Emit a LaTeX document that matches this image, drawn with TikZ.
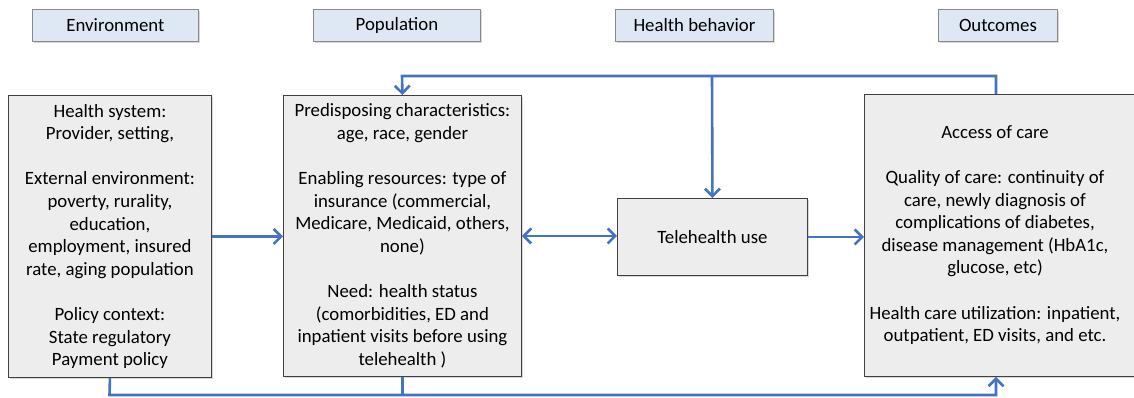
\documentclass[tikz,border=0pt]{standalone}
\usepackage{fontspec}
\setmainfont{Carlito}
\usetikzlibrary{arrows.meta,shadows}
\definecolor{lineblue}{HTML}{4472C4}
\definecolor{boxfill}{HTML}{EDEDED}
\definecolor{boxdraw}{HTML}{404040}
\definecolor{headfill}{HTML}{DEE8F5}
\definecolor{headdraw}{HTML}{8A8A8A}
\tikzset{
  txt/.style={font=\fontsize{18.8}{22.6}\selectfont, align=center, inner sep=0pt, text=black},
  bigbox/.style={txt, draw=boxdraw, fill=boxfill, line width=0.9pt, anchor=north west,
     drop shadow={shadow xshift=2pt, shadow yshift=-2pt, fill=black!30, opacity=0.5}},
  headbox/.style={txt, draw=headdraw, fill=headfill, line width=0.9pt, anchor=north west,
     minimum height=32pt,
     drop shadow={shadow xshift=1.5pt, shadow yshift=-1.5pt, fill=black!30, opacity=0.5}},
  conn/.style={draw=lineblue, line width=2.6pt},
  arr/.style={conn, -{Straight Barb[length=7.5pt,width=15pt,line width=2.6pt]}},
  darr/.style={conn, {Straight Barb[length=7.5pt,width=15pt,line width=2.6pt]}-{Straight Barb[length=7.5pt,width=15pt,line width=2.6pt]}}
}
\begin{document}
\begin{tikzpicture}[x=1pt,y=-1pt]
\useasboundingbox (0,0) rectangle (1134,398);
\clip (0,0) rectangle (1134,398);
% headers
\node[headbox, minimum width=166pt] (hEnv) at (32,9) {Environment};
\node[headbox, minimum width=167pt] (hPop) at (313,9) {Population};
\node[headbox, minimum width=158pt] (hBeh) at (615,9) {Health behavior};
\node[headbox, minimum width=119pt] (hOut) at (938,9) {Outcomes};
% main boxes
\node[bigbox, minimum width=203pt, minimum height=282pt] (env) at (8,95)
 {Health system:\\Provider, setting,\\[22.6pt]External environment:\\poverty, rurality,\\education,\\employment, insured\\rate, aging population\\[22.6pt]Policy context:\\State regulatory\\Payment policy};
\node[bigbox, minimum width=238pt, minimum height=281pt] (pop) at (283,95)
 {Predisposing characteristics:\\age, race, gender\\[22.6pt]Enabling resources: type of\\insurance (commercial,\\Medicare, Medicaid, others,\\none)\\[22.6pt]Need: health status\\(comorbidities, ED and\\inpatient visits before using\\telehealth )};
\node[bigbox, minimum width=190pt, minimum height=77pt] (tele) at (617,198) {Telehealth use};
\node[bigbox, minimum width=285pt, minimum height=282pt] (out) at (864,94) {};
\node[txt] (outtext) at (995,235)
 {Access of care\\[22.6pt]Quality of care: continuity of\\care, newly diagnosis of\\complications of diabetes,\\disease management (HbA1c,\\glucose, etc)\\[22.6pt]Health care utilization: inpatient,\\outpatient, ED visits, and etc.};
% coordinates for loops
\coordinate (topR) at (996,76);
\coordinate (topL) at (402,76);
\coordinate (topM) at (712,76);
\coordinate (botL) at (109.5,395);
\coordinate (botR) at (996,395);
% connectors
\draw[arr] (env.east) -- (env.east -| pop.west);
\draw[darr] (pop.east) -- (pop.east -| tele.west);
\draw[arr] (tele.east) -- (tele.east -| out.west);
\draw[arr] (topR |- out.north) -- (topR) -- (topL) -- (pop.north);
\draw[arr] (topM) -- (tele.north);
\draw[arr] (env.south) -- (botL) -- (botR) -- (botR |- out.south);
\draw[conn] (pop.south) -- (pop.south |- botL);
\end{tikzpicture}
\end{document}
